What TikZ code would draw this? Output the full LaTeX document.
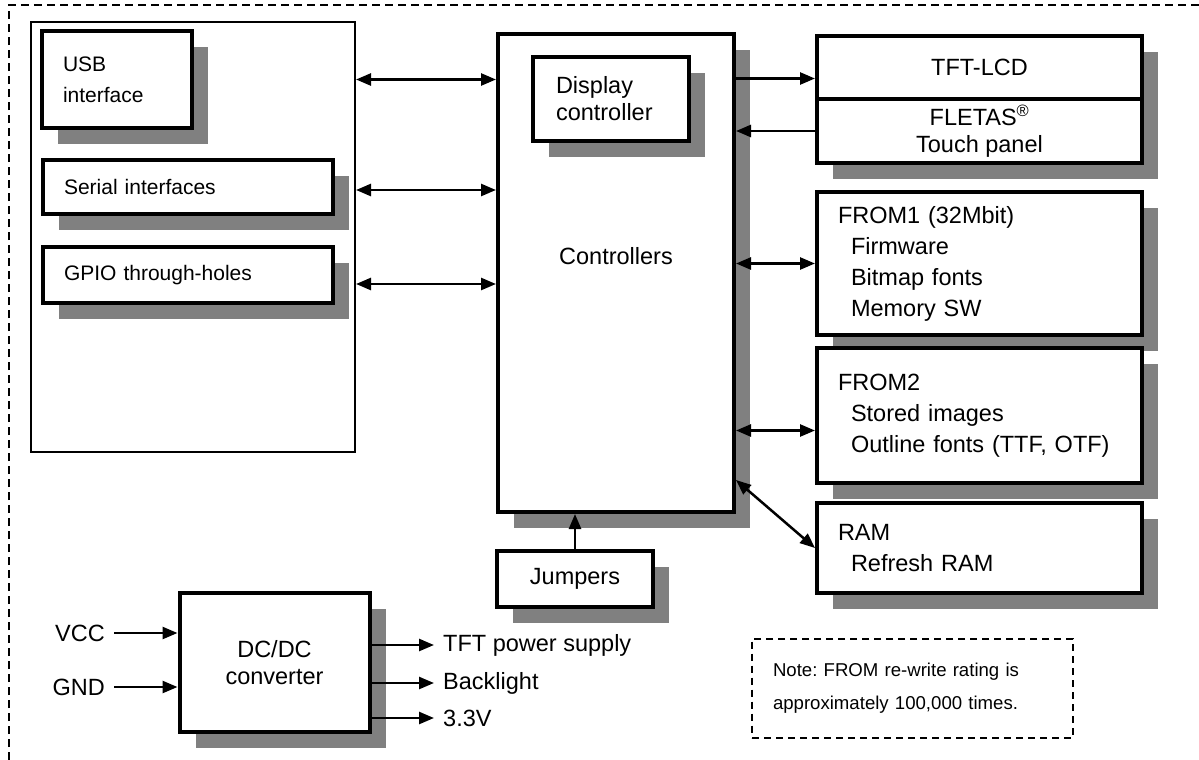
\documentclass[tikz,border=0pt]{standalone}
\usepackage{fontspec}
\setmainfont{Liberation Sans}
\usetikzlibrary{positioning}
\usetikzlibrary{calc}
\usetikzlibrary{arrows.meta,shadows}

\tikzset{
blk/.style={draw,line width=4pt,fill=white,drop shadow={shadow xshift=16pt,shadow yshift=-16pt,fill=black!50,opacity=1},font=\fontsize{23.5}{27}\selectfont},
leftblk/.style={blk,align=left,font=\fontsize{21}{31}\selectfont,inner xsep=21pt},
memblk/.style={blk,align=left,font=\fontsize{23.5}{31}\selectfont,text width=283pt,inner xsep=21pt,minimum width=325pt},
hostblk/.style={draw,line width=2pt},
notebox/.style={draw,line width=2pt,dash pattern=on 7pt off 5pt,align=left,font=\fontsize{18.6}{33}\selectfont\frenchspacing},
frame/.style={line width=2pt,dash pattern=on 8pt off 5pt},
sig/.style={font=\fontsize{23.5}{27}\selectfont,inner xsep=9pt},
arr/.style={-{Triangle[length=15pt,width=12pt]},line width=2.5pt},
darr/.style={{Triangle[length=15pt,width=12pt]}-{Triangle[length=15pt,width=12pt]},line width=2.5pt}
}

\begin{document}
\begin{tikzpicture}[x=1pt,y=-1pt]
\useasboundingbox (0,0) rectangle (1199,760);
\draw[frame] (9,760) |- (1199,5);

\node[hostblk,minimum width=324pt,minimum height=430pt](hostif) at (193,237){};
\node[leftblk,text width=108pt,minimum width=150pt,minimum height=96pt](usb) at (117,79.5){USB\\interface};
\node[leftblk,text width=248pt,minimum width=290pt,minimum height=54pt](serial) at (188,187){Serial interfaces};
\node[leftblk,text width=248pt,minimum width=290pt,minimum height=56pt](gpio) at (188,275){GPIO through-holes};

\node[blk,minimum width=236pt,minimum height=478pt,label={[font=\fontsize{23.5}{27}\selectfont,yshift=17pt]center:Controllers}](ctrl) at (616,273){};
\node[blk,align=left,text width=110pt,inner xsep=23pt,minimum width=156pt,minimum height=84pt](disp) at (611,99){Display\\controller};

\node[blk,minimum width=325pt,minimum height=63pt](tft) at (979.5,67.5){TFT-LCD};
\node[blk,align=center,minimum width=325pt,minimum height=64pt](fletas) at (979.5,131){FLETAS\textsuperscript{®}\\Touch panel};
\node[memblk,minimum height=143pt](from1) at (979.5,263.5){FROM1 (32Mbit)\\\hspace*{13pt}Firmware\\\hspace*{13pt}Bitmap fonts\\\hspace*{13pt}Memory SW};
\node[memblk,minimum height=135pt](from2) at (979.5,415.5){FROM2\\\hspace*{13pt}Stored images\\\hspace*{13pt}Outline fonts (TTF, OTF)};
\node[memblk,minimum height=90pt](ram) at (979.5,548){RAM\\\hspace*{13pt}Refresh RAM};

\node[blk,minimum width=156pt,minimum height=56pt](jump) at (575,579){Jumpers};
\node[blk,align=center,minimum width=190pt,minimum height=139pt](dcdc) at (274.5,662.5){DC/DC\\converter};

\node[sig,anchor=east](vcc) at (114,633){VCC};
\node[sig,anchor=east](gnd) at (114,687){GND};
\node[sig,anchor=west](tftpwr) at (434,645){TFT power supply};
\node[sig,anchor=west](backlight) at (434,683){Backlight};
\node[sig,anchor=west](vout) at (434,718){3.3V};

\node[notebox,text width=279pt,inner xsep=21pt,minimum width=321pt,minimum height=99pt](note) at (912.5,688){Note: FROM re-write rating is\\approximately 100,000 times.};

\path
(hostif.east |- usb) edge[darr] (ctrl.west |- usb)
($(hostif.east |- serial)+(0,3)$) edge[darr] ($(ctrl.west |- serial)+(0,3)$)
($(hostif.east |- gpio)+(0,9)$) edge[darr] ($(ctrl.west |- gpio)+(0,9)$)
($(ctrl.east |- tft)+(0,11)$) edge[arr] ($(tft.west)+(0,11)$)
(fletas) edge[arr] (ctrl.east |- fletas)
(ctrl.east |- from1) edge[darr] (from1)
($(ctrl.east |- from2)+(0,15)$) edge[darr] ($(from2.west)+(0,15)$)
([yshift=34pt]ctrl.south east) edge[darr] (ram.west)
(jump) edge[arr] (jump.north |- ctrl.south)
(vcc) edge[arr] (dcdc.west |- vcc)
(gnd) edge[arr] (dcdc.west |- gnd)
(dcdc.east |- tftpwr) edge[arr] (tftpwr)
(dcdc.east |- backlight) edge[arr] (backlight)
(dcdc.east |- vout) edge[arr] (vout);
\end{tikzpicture}
\end{document}
